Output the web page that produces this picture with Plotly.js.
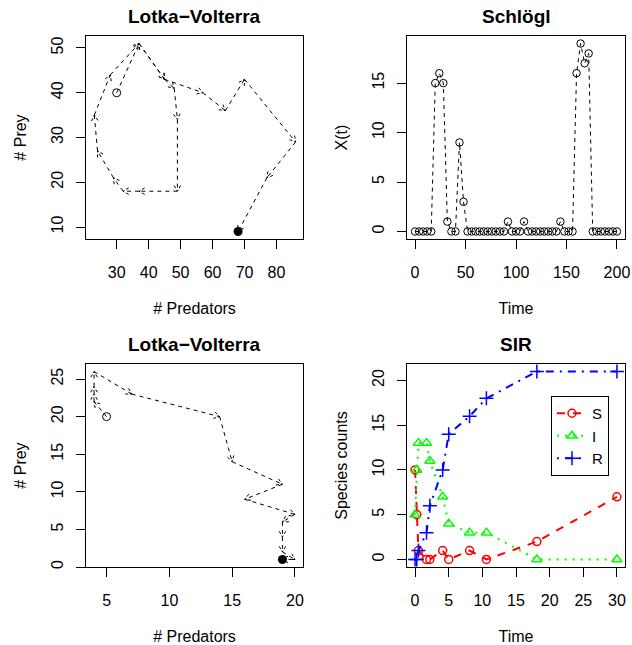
<!DOCTYPE html>
<html><head><meta charset="utf-8">
<script src="https://cdn.plot.ly/plotly-3.0.1.min.js"></script>
<style>html,body{margin:0;padding:0;background:#fff}#chart{width:632px;height:645px}</style>
</head><body><div id="chart"></div>
<script>
// ---- Data ----
// Lotka-Volterra trajectory 1 (top-left)
const lv1Predators = [30,37,45,48,49,49,37,32,29,24,23,28,37,45,57,64,70,86,77,68];
const lv1Prey      = [40,51,43,41,34,18,18,18,21,27,35,44,51,43,40,36,43,29,21,9];
// Schlögl model (top-right)
const schTime = [0,4,8,12,16,20,24,28,32,36,40,44,48,52,56,60,64,68,72,76,80,84,88,92,96,100,
                 104,108,112,116,120,124,128,132,136,140,144,148,152,156,160,164,168,172,176,180,184,188,192,196,200];
const schX    = [0,0,0,0,0,15,16,15,1,0,0,9,3,0,0,0,0,0,0,0,0,0,0,1,0,0,
                 0,1,0,0,0,0,0,0,0,0,1,0,0,0,16,19,17,18,0,0,0,0,0,0,0];
// Lotka-Volterra trajectory 2 (bottom-left)
const lv2Predators = [5,4,4,4,4,7,14,15,19,16,20,19,19,19,20,19];
const lv2Prey      = [20,22,23,24,26,23,20,14,11,9,7,6,4,2,1,1];
// SIR model (bottom-right)
const sirTime = [0,0.25,0.5,1.7,2.2,4.1,5.0,8.1,10.6,18.1,30];
const sirS    = [10,5,1,0,0,1,0,1,0,2,7];
const sirI    = [5,10,13,13,11,7,4,3,3,0,0];
const sirR    = [0,0,1,3,6,10,14,16,18,21,21];

// ---- Layout geometry ----
const W = 632, H = 645;
const colL = [86,303], colR = [407,625];
const rowT = [36,239], rowB = [364,567];
const domX = p => [p[0]/W, p[1]/W];
const domY = p => [1-p[1]/H, 1-p[0]/H];

const rng = {
  x1:[20.4,88.3], y1:[7.32,52.68],
  x2:[-8,208],    y2:[-0.76,19.76],
  x3:[3.36,20.64],y3:[0,27],
  x4:[-1.2,31.2], y4:[-0.84,21.84]
};

// Dashed arrows (like R's arrows(lty=2)) built from the data through axis scales
function arrowTraces(xs, ys, xr, yr, wpx, hpx, xa, ya) {
  const sx = wpx/(xr[1]-xr[0]), sy = hpx/(yr[1]-yr[0]);
  const lx=[], ly=[], hx=[], hy=[];
  const L = 6.5, ang = Math.PI/6;
  for (let i=0;i<xs.length-1;i++){
    const x0=xs[i], y0=ys[i], x1=xs[i+1], y1=ys[i+1];
    lx.push(x0,x1,null); ly.push(y0,y1,null);
    const dxp=(x1-x0)*sx, dyp=(y1-y0)*sy;
    const len=Math.hypot(dxp,dyp); if(len<1e-6) continue;
    const bx=-dxp/len, by=-dyp/len;
    const pts=[];
    for (const s of [1,-1]) {
      const c=Math.cos(s*ang), sn=Math.sin(s*ang);
      const rx=bx*c-by*sn, ry=bx*sn+by*c;
      pts.push([x1+rx*L/sx, y1+ry*L/sy]);
    }
    hx.push(pts[0][0], x1, pts[1][0], null);
    hy.push(pts[0][1], y1, pts[1][1], null);
  }
  const line = {color:'#000', width:1, dash:'4px,4px'};
  return [
    {x:lx, y:ly, xaxis:xa, yaxis:ya, mode:'lines', line:line, showlegend:false, hoverinfo:'skip'},
    {x:hx, y:hy, xaxis:xa, yaxis:ya, mode:'lines', line:{color:'#000', width:1, dash:'3px,2px'}, showlegend:false, hoverinfo:'skip'}
  ];
}

const traces = [];
const wL = colL[1]-colL[0], wR = colR[1]-colR[0], hT = rowT[1]-rowT[0], hB = rowB[1]-rowB[0];

// Top-left
traces.push(...arrowTraces(lv1Predators, lv1Prey, rng.x1, rng.y1, wL, hT, 'x', 'y'));
traces.push({x:[lv1Predators[0]], y:[lv1Prey[0]], xaxis:'x', yaxis:'y', mode:'markers',
  marker:{symbol:'circle-open', size:8, color:'#000', line:{width:1, color:'#000'}}, showlegend:false});
traces.push({x:[lv1Predators[lv1Predators.length-1]], y:[lv1Prey[lv1Prey.length-1]], xaxis:'x', yaxis:'y', mode:'markers',
  marker:{symbol:'circle', size:9, color:'#000'}, showlegend:false});

// Top-right
traces.push({x:schTime, y:schX, xaxis:'x2', yaxis:'y2', mode:'lines+markers',
  line:{color:'#000', width:1, dash:'4px,4px'},
  marker:{symbol:'circle-open', size:7.5, color:'#000', line:{width:1, color:'#000'}}, showlegend:false});

// Bottom-left
traces.push(...arrowTraces(lv2Predators, lv2Prey, rng.x3, rng.y3, wL, hB, 'x3', 'y3'));
traces.push({x:[lv2Predators[0]], y:[lv2Prey[0]], xaxis:'x3', yaxis:'y3', mode:'markers',
  marker:{symbol:'circle-open', size:8, color:'#000', line:{width:1, color:'#000'}}, showlegend:false});
traces.push({x:[lv2Predators[lv2Predators.length-1]], y:[lv2Prey[lv2Prey.length-1]], xaxis:'x3', yaxis:'y3', mode:'markers',
  marker:{symbol:'circle', size:9, color:'#000'}, showlegend:false});

// Bottom-right SIR
traces.push({x:sirTime, y:sirS, name:'S', xaxis:'x4', yaxis:'y4', mode:'lines+markers',
  line:{color:'#FF0000', width:2, dash:'8px,8px'},
  marker:{symbol:'circle-open', size:8, color:'#FF0000', line:{width:1.5, color:'#FF0000'}}});
traces.push({x:sirTime, y:sirI, name:'I', xaxis:'x4', yaxis:'y4', mode:'lines+markers',
  line:{color:'#00FF00', width:2, dash:'2px,6px'},
  marker:{symbol:'triangle-up-open', size:9, color:'#00FF00', line:{width:1.5, color:'#00FF00'}}});
traces.push({x:sirTime, y:sirR, name:'R', xaxis:'x4', yaxis:'y4', mode:'lines+markers',
  line:{color:'#0000FF', width:2, dash:'2px,6px,8px,6px'},
  marker:{symbol:'cross-thin-open', size:10, color:'#0000FF', line:{width:1.5, color:'#0000FF'}}});

const FONT = 'Liberation Sans, Arial, Helvetica, sans-serif';
function ax(dom, range, dtick, tick0, anchor, titleText, isY) {
  const a = {domain:dom, range:range, dtick:dtick, tick0:tick0, anchor:anchor,
    showline:true, mirror:true, linecolor:'#000', linewidth:1,
    ticks:'outside', ticklen:9, tickwidth:1, tickcolor:'#000',
    showgrid:false, zeroline:false, fixedrange:true,
    tickfont:{size:16, color:'#000', family:FONT},
    title:{text:titleText, font:{size:16, color:'#000', family:FONT}, standoff: isY ? 17 : 22}
  };
  if (isY) { a.tickangle = -90; a.ticklabelstandoff = 7; }
  else { a.ticklabelstandoff = 10; }
  return a;
}

const titles = [
  {text:'Lotka−Volterra', x:(colL[0]+colL[1])/2/W, y:1-17/H},
  {text:'Schlögl',        x:(colR[0]+colR[1])/2/W, y:1-17/H},
  {text:'Lotka−Volterra', x:(colL[0]+colL[1])/2/W, y:1-345/H},
  {text:'SIR',            x:(colR[0]+colR[1])/2/W, y:1-345/H}
].map(t => ({text:'<b>'+t.text+'</b>', x:t.x, y:t.y, xref:'paper', yref:'paper',
  xanchor:'center', yanchor:'middle', showarrow:false, font:{size:19, color:'#000', family:FONT}}));

const layout = {
  width:W, height:H, margin:{l:0,r:0,t:0,b:0}, paper_bgcolor:'#fff', plot_bgcolor:'#fff',
  font:{family:FONT, color:'#000'},
  xaxis: ax(domX(colL), rng.x1, 10, 0, 'y', '# Predators', false),
  yaxis: ax(domY(rowT), rng.y1, 10, 0, 'x', '# Prey', true),
  xaxis2: ax(domX(colR), rng.x2, 50, 0, 'y2', 'Time', false),
  yaxis2: ax(domY(rowT), rng.y2, 5, 0, 'x2', 'X(t)', true),
  xaxis3: ax(domX(colL), rng.x3, 5, 0, 'y3', '# Predators', false),
  yaxis3: ax(domY(rowB), rng.y3, 5, 0, 'x3', '# Prey', true),
  xaxis4: ax(domX(colR), rng.x4, 5, 0, 'y4', 'Time', false),
  yaxis4: ax(domY(rowB), rng.y4, 5, 0, 'x4', 'Species counts', true),
  annotations: titles,
  showlegend: true,
  legend: {x:551/W, y:1-396/H, xanchor:'left', yanchor:'top', bgcolor:'#fff',
    bordercolor:'#000', borderwidth:1, font:{size:15, color:'#000', family:FONT},
    itemwidth:30, tracegroupgap:0}
};

Plotly.newPlot('chart', traces, layout, {staticPlot:true, displayModeBar:false});
</script>
</body></html>
